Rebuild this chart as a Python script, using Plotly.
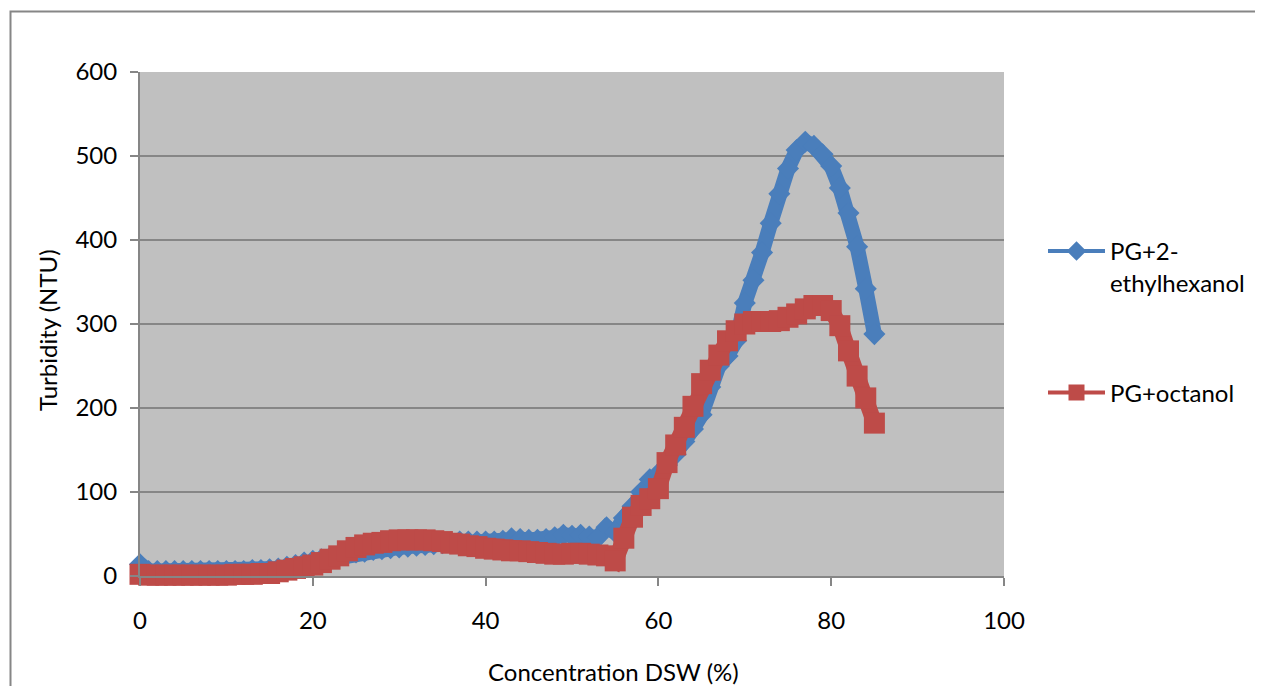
import plotly.graph_objects as go

# -- data --
conc = [0, 1, 2, 3, 4, 5, 6, 7, 8, 9, 10, 11, 12, 13, 14, 15, 16, 17, 18, 19,
        20, 21, 22, 23, 24, 25, 26, 27, 28, 29, 30, 31, 32, 33, 34, 35, 36, 37, 38, 39,
        40, 41, 42, 43, 44, 45, 46, 47, 48, 49, 50, 51, 52, 53, 54, 55, 56, 57, 58, 59,
        60, 61, 62, 63, 64, 65, 66, 67, 68, 69, 70, 71, 72, 73, 74, 75, 76, 77, 78, 79,
        80, 81, 82, 83, 84, 85]

ethylhexanol = [14, 6, 6, 6, 6, 6, 6, 6, 6, 6, 6, 6, 6, 7, 7, 8, 9, 11, 13, 16,
                18, 20, 22, 24, 26, 28, 29, 31, 32, 33, 34, 35, 36, 37, 38, 39, 40, 41, 41, 41,
                41, 41, 42, 45, 44, 43, 43, 44, 46, 49, 48, 49, 47, 46, 58, 52, 69, 83, 100, 115,
                122, 132, 145, 160, 175, 192, 225, 250, 262, 280, 325, 352, 385, 420, 455, 485, 507, 517, 512, 502,
                488, 462, 432, 392, 342, 288]

octanol = [2, 1, 1, 1, 1, 1, 1, 1, 1, 1, 1, 2, 2, 2, 3, 3, 5, 7, 9, 11,
           13, 16, 20, 24, 30, 34, 37, 39, 40, 42, 43, 43, 43, 43, 42, 41, 39, 38, 36, 35,
           33, 32, 31, 30, 30, 29, 28, 27, 26, 26, 27, 27, 26, 25, 24, 18, 45, 70, 84, 92,
           104, 135, 156, 177, 202, 229, 245, 263, 280, 292, 300, 303, 303, 303, 304, 308, 312, 318, 322, 322,
           316, 298, 268, 238, 212, 182]

y_ticks = [0, 100, 200, 300, 400, 500, 600]
x_ticks = [0, 20, 40, 60, 80, 100]

BLUE = "#4A7EBB"
RED = "#BE4B48"
GRAY = "#868686"
FONT = "Lato"
FS = 24

# page is drawn with an 8px body margin, plot area wanted at page x 140..1004, y 72..576
OFF = 8
L, T, W, H = 140 - OFF, 72 - OFF, 864, 504

def px(x):
    return (x - OFF - L) / W

def py(y):
    return (T + H - (y - OFF)) / H

fig = go.Figure()

# thick data bands (dense overlapping markers in the original)
fig.add_trace(go.Scatter(x=conc, y=ethylhexanol, mode="lines+markers", cliponaxis=False,
                         line=dict(color=BLUE, width=15),
                         marker=dict(symbol="diamond", size=17, color=BLUE),
                         showlegend=False))
fig.add_trace(go.Scatter(x=conc, y=octanol, mode="lines+markers", cliponaxis=False,
                         line=dict(color=RED, width=16),
                         marker=dict(symbol="square", size=21, color=RED),
                         showlegend=False))

# legend entries
fig.add_trace(go.Scatter(x=[None], y=[None], name="PG+2-<br>ethylhexanol",
                         mode="lines+markers", line=dict(color=BLUE, width=4),
                         marker=dict(symbol="diamond", size=15, color=BLUE),
                         legend="legend"))
fig.add_trace(go.Scatter(x=[None], y=[None], name="PG+octanol",
                         mode="lines+markers", line=dict(color=RED, width=4),
                         marker=dict(symbol="square", size=16, color=RED),
                         legend="legend2"))

fig.add_shape(type="rect", xref="paper", yref="paper",
              x0=px(10.5), x1=px(1261), y0=py(720), y1=py(11.5),
              line=dict(color=GRAY, width=2), layer="below")

fig.add_annotation(text="Concentration DSW (%)", xref="paper", yref="paper",
                   x=px(613), y=py(671), xanchor="center", yanchor="middle", showarrow=False,
                   font=dict(family=FONT, size=FS, color="black"))
fig.add_annotation(text="Turbidity (NTU)", xref="paper", yref="paper",
                   x=px(47), y=py(330), xanchor="center", yanchor="middle",
                   textangle=-90, showarrow=False,
                   font=dict(family=FONT, size=FS, color="black"))

fig.update_xaxes(range=[0, 100], tickvals=x_ticks, showgrid=False, zeroline=False,
                 showline=True, linecolor=GRAY, linewidth=2,
                 ticks="outside", ticklen=8, tickcolor=GRAY, tickwidth=2,
                 ticklabelstandoff=14,
                 tickfont=dict(family=FONT, size=FS, color="black"))
fig.update_yaxes(range=[0, 600], tickvals=y_ticks, showgrid=True, gridcolor=GRAY, gridwidth=2,
                 zeroline=False, showline=True, linecolor=GRAY, linewidth=2,
                 ticks="outside", ticklen=8, tickcolor=GRAY, tickwidth=2,
                 ticklabelstandoff=8,
                 tickfont=dict(family=FONT, size=FS, color="black"))

legend_style = dict(xanchor="left", bgcolor="rgba(0,0,0,0)", itemwidth=57,
                    valign="top", font=dict(family=FONT, size=FS, color="black"))

fig.update_layout(
    width=1263 - OFF, height=686 - OFF,
    margin=dict(l=L, r=1263 - OFF - L - W, t=T, b=686 - OFF - T - H),
    plot_bgcolor="#C0C0C0", paper_bgcolor="white",
    font=dict(family=FONT, size=FS, color="black"),
    showlegend=True,
    legend=dict(x=px(1043), y=py(229), yanchor="top", **legend_style),
    legend2=dict(x=px(1043), y=py(393), yanchor="middle", **legend_style),
)

fig.write_html("out.html")
